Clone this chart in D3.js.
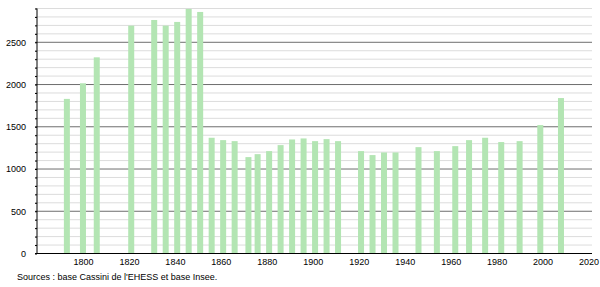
<!DOCTYPE html>
<html>
<head>
<meta charset="utf-8">
<script src="https://cdn.jsdelivr.net/npm/d3@7"></script>
<style>
  body { margin: 0; background: #fff; }
  text { font-family: "Liberation Sans", Arial, sans-serif; font-size: 9px; fill: #000; }
</style>
</head>
<body>
<div class="chart"></div>
<script>
// population by census year
let years = [1793, 1800, 1806, 1821, 1831, 1836, 1841, 1846, 1851, 1856,
  1861, 1866, 1872, 1876, 1881, 1886, 1891, 1896, 1901, 1906, 1911,
  1921, 1926, 1931, 1936, 1946, 1954, 1962, 1968, 1975, 1982, 1990, 1999, 2008];
let population = [1830, 2015, 2322, 2697, 2764, 2697, 2741, 2895, 2859, 1370,
  1342, 1330, 1141, 1176, 1212, 1283, 1350, 1362, 1330, 1354, 1330,
  1212, 1165, 1196, 1196, 1259, 1212, 1271, 1342, 1370, 1319, 1330, 1520, 1840];
let xTicks = [1800, 1820, 1840, 1860, 1880, 1900, 1920, 1940, 1960, 1980, 2000, 2020];
let yTicks = [0, 500, 1000, 1500, 2000, 2500];
let sourceText = "Sources : base Cassini de l'EHESS et base Insee.";

let svgWidth = 600;
let svgHeight = 287;

let data = years.map((y, i) => ({ year: y, pop: population[i] }));

let svg = d3.select(".chart")
  .append("svg")
  .attr("width", svgWidth)
  .attr("height", svgHeight);

let xScale = d3.scaleLinear()
  .domain([1780, 2021.5])
  .range([37, 592]);

let yScale = d3.scaleLinear()
  .domain([0, 2900])
  .range([253.5, 8.5]);

// minor grid lines every 100
let minor = d3.range(100, 3000, 100).filter(v => v % 500 != 0);
svg.append("g")
  .selectAll("line")
  .data(minor)
  .enter()
  .append("line")
  .attr("x1", 35)
  .attr("x2", 592)
  .attr("y1", d => yScale(d))
  .attr("y2", d => yScale(d))
  .attr("stroke", "#dcdcdc")
  .attr("stroke-width", 1);

// major grid lines
svg.append("g")
  .selectAll("line")
  .data(yTicks.filter(v => v > 0))
  .enter()
  .append("line")
  .attr("x1", 35)
  .attr("x2", 592)
  .attr("y1", d => yScale(d))
  .attr("y2", d => yScale(d))
  .attr("stroke", "#6e6e6e")
  .attr("stroke-width", 1);

// bars
svg.append("g")
  .selectAll("rect")
  .data(data)
  .enter()
  .append("rect")
  .attr("x", d => xScale(d.year) - 3)
  .attr("width", 6)
  .attr("y", d => yScale(d.pop))
  .attr("height", d => yScale(0) - yScale(d.pop))
  .attr("fill", "#b3e5b3");

// left axis with small ticks every 100
let leftAxis = d3.axisLeft(yScale)
  .tickValues(d3.range(0, 3000, 100))
  .tickSize(2)
  .tickFormat(d => yTicks.includes(d) ? d : "");
let yAxisG = svg.append("g")
  .attr("transform", "translate(37,0)")
  .call(leftAxis);
yAxisG.select(".domain").attr("stroke", "#000").attr("d", `M0,${yScale(2900)}V${yScale(0)}`);
yAxisG.selectAll(".tick line").attr("stroke", "#000");
yAxisG.selectAll("text")
  .attr("x", -11)
  .style("font-size", "9px")
  .style("font-family", "Liberation Sans, Arial, sans-serif");

// bottom axis
let bottomAxis = d3.axisBottom(xScale)
  .tickValues(xTicks)
  .tickSize(0)
  .tickFormat(d3.format("d"));
let xAxisG = svg.append("g")
  .attr("transform", `translate(0,${yScale(0)})`)
  .call(bottomAxis);
xAxisG.select(".domain").attr("stroke", "#000").attr("d", "M35,0H592");
xAxisG.selectAll("text")
  .attr("y", 5)
  .style("font-size", "9px")
  .style("font-family", "Liberation Sans, Arial, sans-serif");

svg.append("text")
  .attr("x", 17)
  .attr("y", 280)
  .text(sourceText);
</script>
</body>
</html>
